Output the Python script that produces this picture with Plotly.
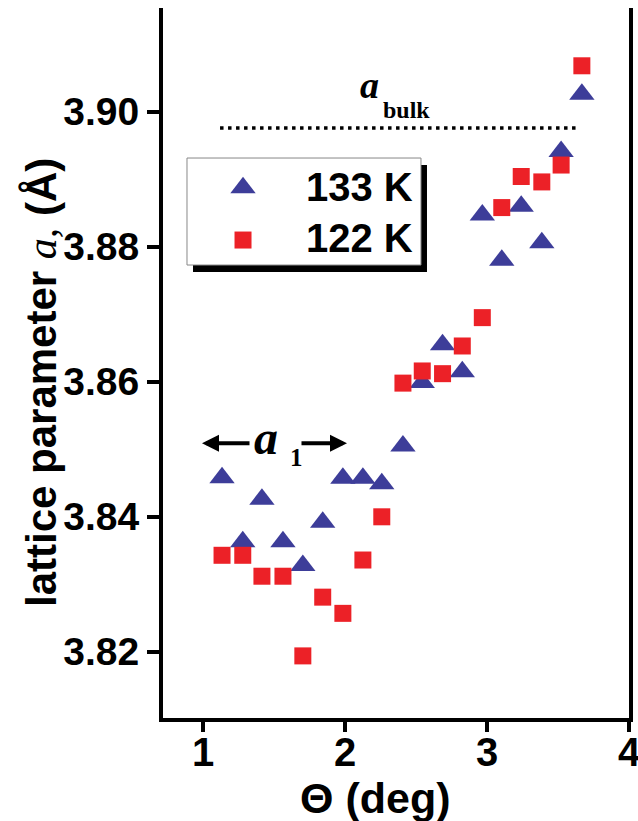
import plotly.graph_objects as go

# Scattering angle (deg), shared by both temperature runs
theta = [1.134, 1.280, 1.415, 1.563, 1.703, 1.843, 1.985, 2.126, 2.259, 2.408,
         2.544, 2.687, 2.826, 2.967, 3.104, 3.241, 3.386, 3.522, 3.668]

# Lattice parameter a (Angstrom) at 133 K
a_133K = [3.8458, 3.8363, 3.8426, 3.8363, 3.8328, 3.8392, 3.8457, 3.8457, 3.8449, 3.8505,
          3.8599, 3.8655, 3.8615, 3.8847, 3.8780, 3.8860, 3.8806, 3.8941, 3.9026]

# Lattice parameter a (Angstrom) at 122 K
a_122K = [3.8343, 3.8343, 3.8312, 3.8312, 3.8194, 3.8281, 3.8257, 3.8336, 3.8400, 3.8598,
          3.8616, 3.8612, 3.8653, 3.8695, 3.8858, 3.8904, 3.8896, 3.8921, 3.9068]

series_names = ["133 K", "122 K"]
a_bulk = 3.8976
bulk_span = [1.12, 3.655]

x_ticks = [1, 2, 3, 4]
y_ticks = [3.82, 3.84, 3.86, 3.88, 3.90]

SANS = "Liberation Sans, Arial, sans-serif"
SERIF = "Liberation Serif, Times New Roman, serif"
BLUE = "#3d3d99"
RED = "#ec2127"
TRI = dict(symbol="triangle-up", size=22, color=BLUE, line=dict(width=0))
SQR = dict(symbol="square", size=17, color=RED, line=dict(width=0))

fig = go.Figure()
fig.add_trace(go.Scatter(x=theta, y=a_133K, mode="markers", name=series_names[0],
                         marker=TRI, showlegend=False))
fig.add_trace(go.Scatter(x=theta, y=a_122K, mode="markers", name=series_names[1],
                         marker=SQR, showlegend=False))

# key symbols, drawn on a hidden unit overlay so they sit inside the key box
key_x = [0.1717, 0.1717]
key_y = [0.7468, 0.6732]
fig.add_trace(go.Scatter(x=key_x[:1], y=key_y[:1], mode="markers", marker=TRI,
                         xaxis="x2", yaxis="y2", showlegend=False, hoverinfo="skip"))
fig.add_trace(go.Scatter(x=key_x[1:], y=key_y[1:], mode="markers", marker=SQR,
                         xaxis="x2", yaxis="y2", showlegend=False, hoverinfo="skip"))

# bulk lattice parameter reference line
fig.add_shape(type="line", xref="x", yref="y",
              x0=bulk_span[0], x1=bulk_span[1], y0=a_bulk, y1=a_bulk,
              line=dict(color="black", width=3.5, dash="3.5px,4.5px"))

# key frame with drop shadow
fig.add_shape(type="rect", xref="paper", yref="paper",
              x0=0.0644, x1=0.5665, y0=0.6282, y1=0.7789,
              fillcolor="black", line=dict(width=0), layer="below")
fig.add_shape(type="rect", xref="paper", yref="paper",
              x0=0.0515, x1=0.5536, y0=0.6380, y1=0.7887,
              fillcolor="white", line=dict(color="#888888", width=1), layer="below")

KEYFONT = dict(family=SANS, size=40, color="black", weight="bold")
annotations = [
    # key labels
    dict(x=0.3026, y=0.7479, xref="paper", yref="paper", text=series_names[0],
         xanchor="left", yanchor="middle", showarrow=False, font=KEYFONT),
    dict(x=0.3026, y=0.6761, xref="paper", yref="paper", text=series_names[1],
         xanchor="left", yanchor="middle", showarrow=False, font=KEYFONT),
    # a_bulk label
    dict(x=2.172, y=3.9039, text="<b><i>a</i></b>", showarrow=False,
         font=dict(family=SERIF, size=38, color="black")),
    dict(x=2.43, y=3.9002, text="<b>bulk</b>", showarrow=False,
         font=dict(family=SERIF, size=24, color="black")),
    # a_1 label with range arrows
    dict(x=1.447, y=3.8518, text="<b><i>a</i></b>", showarrow=False,
         font=dict(family=SERIF, size=48, color="black")),
    dict(x=1.655, y=3.8488, text="<b>1</b>", showarrow=False,
         font=dict(family=SERIF, size=25, color="black")),
    dict(x=0.993, y=3.8509, ax=1.338, ay=3.8509, axref="x", ayref="y", text="",
         showarrow=True, arrowhead=2, arrowsize=0.85, arrowwidth=4, arrowcolor="black"),
    dict(x=2.014, y=3.8509, ax=1.683, ay=3.8509, axref="x", ayref="y", text="",
         showarrow=True, arrowhead=2, arrowsize=0.85, arrowwidth=4, arrowcolor="black"),
    # axis titles
    dict(x=0.455, y=-0.1127, xref="paper", yref="paper", text="Θ (deg)",
         xanchor="center", yanchor="middle", showarrow=False,
         font=dict(family=SANS, size=43, color="black", weight="bold")),
    dict(x=-0.2618, y=0.4718, xref="paper", yref="paper", textangle=-90,
         text="lattice parameter <span style=\"font-family:Liberation Serif;font-weight:normal\"><i>a,</i></span> (Å)",
         xanchor="center", yanchor="middle", showarrow=False,
         font=dict(family=SANS, size=42, color="black", weight="bold")),
]

fig.update_layout(
    width=638, height=821,
    margin=dict(l=163, r=9, t=8, b=103, autoexpand=False),
    paper_bgcolor="white", plot_bgcolor="white",
    font=dict(family=SANS, size=39, color="black", weight="bold"),
    showlegend=False,
    annotations=annotations,
    xaxis=dict(
        range=[0.7183, 4.0], tickmode="array", tickvals=x_ticks,
        ticktext=[str(v) for v in x_ticks],
        showgrid=False, zeroline=False, showline=True, linecolor="black", linewidth=4,
        ticks="outside", ticklen=10, tickwidth=4, tickcolor="black", mirror=False,
        automargin=False, ticklabeloverflow="allow", ticklabelstandoff=-14,
        tickfont=dict(family=SANS, size=40, color="black", weight="bold"),
    ),
    yaxis=dict(
        range=[3.8102, 3.91536], tickmode="array", tickvals=y_ticks,
        ticktext=[f"{v:.2f}" for v in y_ticks],
        showgrid=False, zeroline=False, showline=True, linecolor="black", linewidth=4,
        ticks="outside", ticklen=12, tickwidth=4, tickcolor="black", mirror=True,
        automargin=False,
        tickfont=dict(family=SANS, size=39, color="black", weight="bold"),
    ),
    xaxis2=dict(overlaying="x", anchor="y2", range=[0, 1], visible=False, fixedrange=True),
    yaxis2=dict(overlaying="y", anchor="x2", range=[0, 1], visible=False, fixedrange=True),
)

fig.write_html("out.html")
